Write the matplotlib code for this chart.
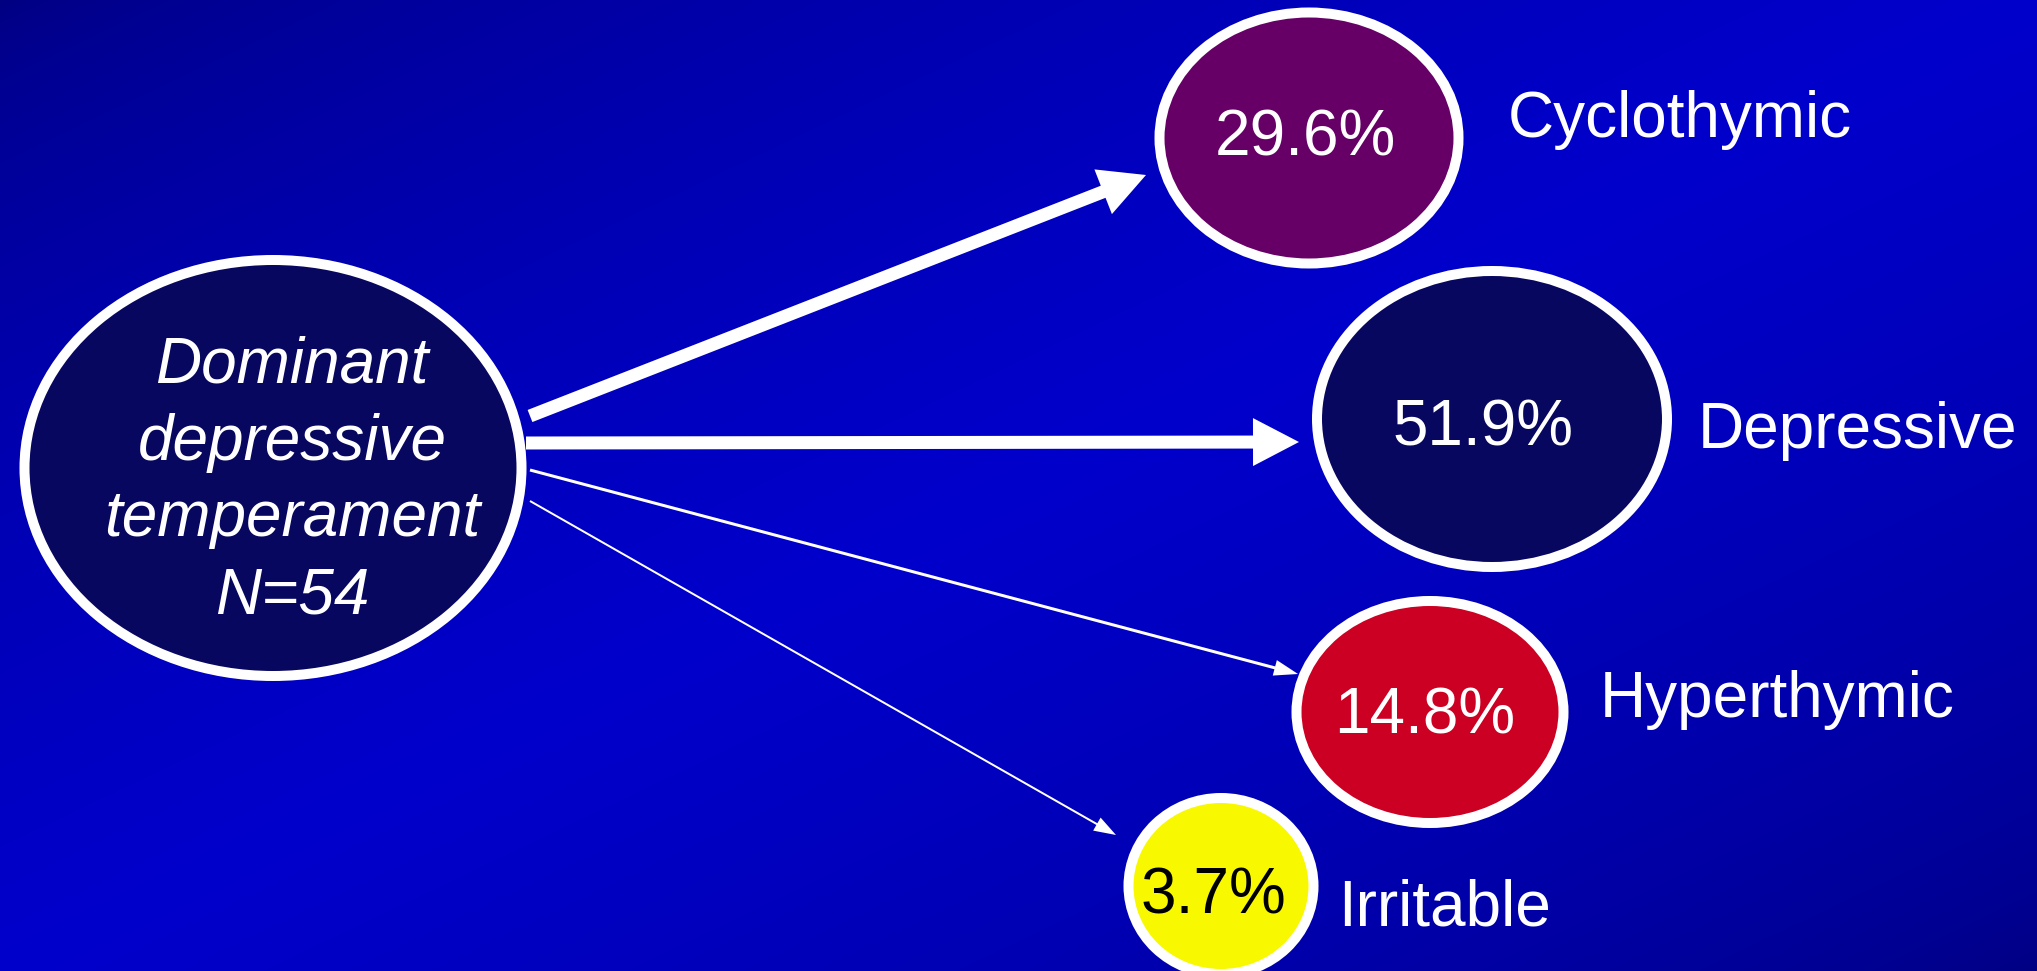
import numpy as np
import matplotlib
matplotlib.use("Agg")
import matplotlib.pyplot as plt
from matplotlib.patches import Ellipse, FancyArrow
from matplotlib.colors import to_rgb

plt.rcParams['font.family'] = ['Liberation Sans', 'DejaVu Sans']

# data
source_label = "Dominant\ndepressive\ntemperament\nN=54"
categories = ["Cyclothymic", "Depressive", "Hyperthymic", "Irritable"]
percentages = [29.6, 51.9, 14.8, 3.7]
fill_colors = ["#660066", "#07075f", "#cc0022", "#f8f800"]
value_colors = ["white", "white", "white", "black"]

# layout (pixels, y measured from the top)
W, H = 2037, 971
src_center = (273, 468)
src_size = (497, 416)
node_centers = [(1309, 138), (1492, 419), (1430, 712), (1221, 886)]
node_sizes = [(299, 251), (350, 296), (267, 222), (185, 176)]
value_pos = [(1305, 156), (1483, 445), (1425, 734), (1213, 913)]
label_pos = [(1508, 137), (1698, 448), (1600, 717), (1338, 925)]
arrow_start = [(530, 416), (526, 443), (530, 470), (530, 501)]
arrow_tip = [(1146, 175), (1299, 442), (1298, 674), (1116, 835)]
arrow_width = [13, 13, 3, 2]
head_width = [48, 48, 16, 15]
head_length = [46, 46, 24, 22]

fig = plt.figure(figsize=(W / 100, H / 100), dpi=100)
ax = fig.add_axes([0, 0, 1, 1])
ax.set_xlim(0, W)
ax.set_ylim(H, 0)
ax.axis('off')

# diagonal background: dark navy in two corners, bright blue across the middle
yy, xx = np.mgrid[0:H, 0:W]
d = xx / W + yy / H
t = np.clip(1 - np.abs(d - 1), 0, 1) ** 0.6
dark = np.array(to_rgb("#000080"))
bright = np.array(to_rgb("#0000cc"))
bg = dark + (bright - dark) * t[..., None]
ax.imshow(bg, extent=[0, W, H, 0], aspect='auto', zorder=0)

# arrows from the source node
for (x0, y0), (x1, y1), w, hw, hl in zip(arrow_start, arrow_tip, arrow_width,
                                          head_width, head_length):
    ax.add_patch(FancyArrow(x0, y0, x1 - x0, y1 - y0, width=w, head_width=hw,
                            head_length=hl, length_includes_head=True,
                            color='white', lw=0, zorder=2))

# source node
ax.add_patch(Ellipse(src_center, src_size[0], src_size[1], facecolor="#07075f",
                     edgecolor='white', lw=7.2, zorder=3))
ax.text(292, 481, source_label, ha='center', va='center', color='white',
        fontsize=46, style='italic', linespacing=1.36, zorder=4)

# outcome nodes
for i, cat in enumerate(categories):
    ax.add_patch(Ellipse(node_centers[i], node_sizes[i][0], node_sizes[i][1],
                         facecolor=fill_colors[i], edgecolor='white', lw=7.2,
                         zorder=3))
    ax.text(value_pos[i][0], value_pos[i][1], f"{percentages[i]:.1f}%",
            ha='center', va='baseline', color=value_colors[i], fontsize=46,
            zorder=4)
    ax.text(label_pos[i][0], label_pos[i][1], cat, ha='left', va='baseline',
            color='white', fontsize=46, zorder=4)

fig.savefig("out.png", dpi=100)
